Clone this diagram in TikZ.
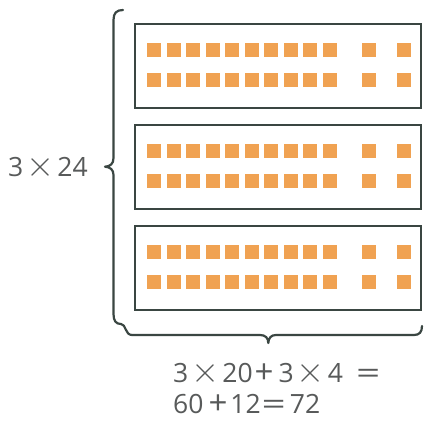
\documentclass[tikz,border=0pt]{standalone}
\usepackage{fontspec}
\setmainfont{Open Sans}
\newcommand{\tms}{\hspace{3pt}\scalebox{1.45}{$\times$}\hspace{3pt}}
\newcommand{\pls}{\raisebox{-0.04em}{\scalebox{1.25}{+}}}
\newcommand{\eqs}{\raisebox{-0.02em}{\scalebox{1.6}[1.1]{=}}}
\definecolor{sq}{RGB}{240,162,82}
\definecolor{ln}{RGB}{58,70,66}
\definecolor{tx}{RGB}{88,90,90}
\tikzset{
  box/.style={draw=ln, line width=2pt, minimum width=286pt, minimum height=84pt, inner sep=0pt, anchor=north west},
  brace/.style={draw=ln, line width=2.2pt, line join=round, line cap=round},
  sqr/.style={fill=sq},
  lab/.style={text=tx, font=\fontsize{26.5}{30}\selectfont, inner sep=0pt}
}
\begin{document}
\begin{tikzpicture}[x=1pt,y=-1pt]
\useasboundingbox (0,0) rectangle (424,421);
\fill[white] (0,0) rectangle (424,421);
\foreach \t [count=\k] in {23,124,225} {
  \node[box] (b\k) at (134,\t) {};
  \foreach \r in {19.5,49.5} {
    \foreach \i in {0,...,9} {
      \fill[sqr] (147+19.5*\i,\t+\r) rectangle ++(14,14);
    }
    \fill[sqr] (362,\t+\r) rectangle ++(14,14);
    \fill[sqr] (396.5,\t+\r) rectangle ++(14,14);
  }
}
\path[brace] (123,10) .. controls (116.5,10) and (113.5,13) .. (113.5,20)
  -- (113.5,158) .. controls (113.5,164) and (110,166.5) .. (105,166.7)
  .. controls (110,167) and (113.5,169.5) .. (113.5,175)
  -- (113.5,314) .. controls (113.5,321) and (116,324) .. (121,324)
  .. controls (126,324) and (125,335) .. (132,335)
  -- (260,335) .. controls (265.5,335) and (268.3,338) .. (268.3,343)
  .. controls (268.6,338) and (271,335) .. (276,335)
  -- (414,335) .. controls (419.5,335) and (422,332) .. (422,326);
\node[lab, anchor=base west] (l) at (8,176) {3\tms 24};
\node[lab, anchor=base west] (e1) at (173,382.5) {3\tms 20\hspace{2pt}\pls\hspace{5pt}3\tms 4\hspace{13pt}\eqs};
\node[lab, anchor=base west] (e2) at (173,413.5) {60\hspace{5pt}\pls\hspace{3pt}12\hspace{1pt}\eqs\hspace{4pt}72};
\end{tikzpicture}
\end{document}
